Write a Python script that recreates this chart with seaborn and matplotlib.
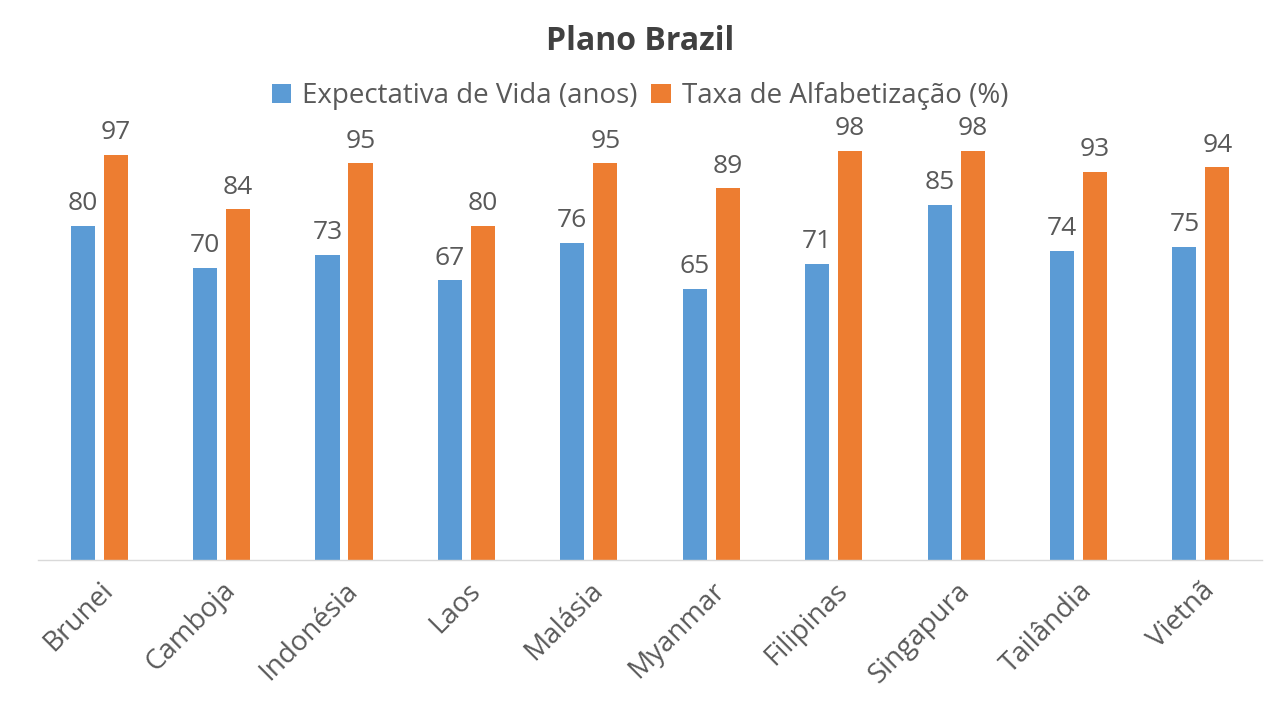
import pandas as pd
import matplotlib
matplotlib.use('Agg')
import matplotlib.pyplot as plt
import seaborn as sns

# chart values
paises = ['Brunei', 'Camboja', 'Indonésia', 'Laos', 'Malásia',
          'Myanmar', 'Filipinas', 'Singapura', 'Tailândia', 'Vietnã']
expectativa = [80, 70, 73, 67, 76, 65, 71, 85, 74, 75]
alfabetizacao = [97, 84, 95, 80, 95, 89, 98, 98, 93, 94]
series = ['Expectativa de Vida (anos)', 'Taxa de Alfabetização (%)']
cores = ['#5B9BD5', '#ED7D31']

df = pd.DataFrame({'País': paises * 2,
                   'Valor': expectativa + alfabetizacao,
                   'Série': [series[0]] * len(paises) + [series[1]] * len(paises)})

sns.set_theme(style='white')
plt.rcParams['font.family'] = ['Open Sans', 'DejaVu Sans']
texto = '#595959'

fig = plt.figure(figsize=(12.8, 7.2), dpi=100)
ax = fig.add_axes([0.0297, 0.2222, 0.9563, 0.580])

sns.barplot(data=df, x='País', y='Valor', hue='Série', palette=cores,
            width=0.539, gap=0.27, ax=ax, saturation=1, legend=True,
            linewidth=0, edgecolor='none')

ax.set_xlim(-0.5, len(paises) - 0.5)
ax.set_ylim(0, 100)
for c in ax.containers:
    ax.bar_label(c, padding=7, fontsize=19, color=texto, clip_on=False)

ax.set_xlabel('')
ax.set_ylabel('')
ax.set_yticks([])
ax.tick_params(axis='x', length=0, pad=12)
plt.setp(ax.get_xticklabels(), rotation=45, ha='right', rotation_mode='anchor',
         fontsize=20, color=texto)
for s in ['top', 'right', 'left']:
    ax.spines[s].set_visible(False)
ax.spines['bottom'].set_color('#D9D9D9')
ax.spines['bottom'].set_linewidth(1)

handles, labels = ax.get_legend_handles_labels()
ax.legend_.remove()
fig.legend(handles, labels, loc='center', bbox_to_anchor=(0.5, 0.866), ncol=2,
           frameon=False, fontsize=20, labelcolor=texto, handlelength=0.7,
           handleheight=0.7, handletextpad=0.4, columnspacing=0.5)

fig.suptitle('Plano Brazil', y=0.965, fontsize=23, fontweight='bold', color='#404040')

fig.savefig('out.png', dpi=100)
